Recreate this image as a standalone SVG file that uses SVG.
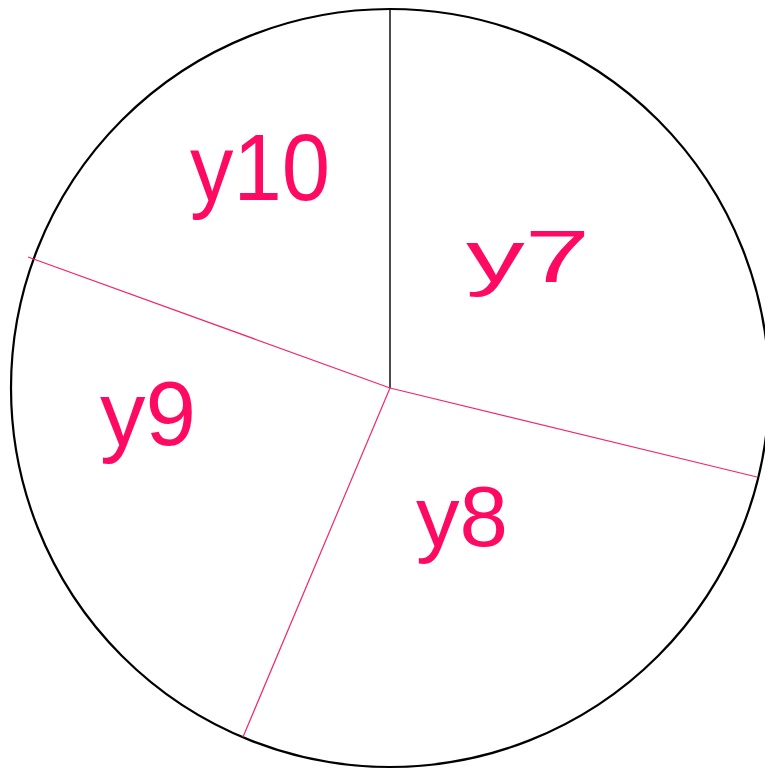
<svg xmlns="http://www.w3.org/2000/svg" width="765" height="769" viewBox="0 0 765 769">
<style>
.lbl{font-family:"Liberation Sans",Arial,sans-serif;fill:#ff0a62}
.pink{stroke:#f0286a;stroke-width:1.2;fill:none}
</style>
<rect width="765" height="769" fill="#ffffff"/>
<g id="circle">
<circle cx="390" cy="388" r="379" fill="none" stroke="#000" stroke-width="2.2"/>
</g>
<g id="connectors">
<line x1="390" y1="388" x2="390" y2="8" stroke="#000" stroke-width="1.4"/>
<line class="pink" x1="390" y1="388" x2="28" y2="257"/>
<line class="pink" x1="390" y1="388" x2="757" y2="477"/>
<line class="pink" x1="390" y1="388" x2="243" y2="737"/>
</g>
<g id="label-y10"><text class="lbl" x="190" y="200" font-size="95" textLength="140" lengthAdjust="spacingAndGlyphs">y10</text></g>
<g id="label-y7"><text class="lbl" x="466" y="282" font-size="75" textLength="124" lengthAdjust="spacingAndGlyphs">y7</text></g>
<g id="label-y9"><text class="lbl" x="100" y="445" font-size="90" textLength="96" lengthAdjust="spacingAndGlyphs">y9</text></g>
<g id="label-y8"><text class="lbl" x="416" y="546" font-size="85" textLength="92" lengthAdjust="spacingAndGlyphs">y8</text></g>
</svg>
